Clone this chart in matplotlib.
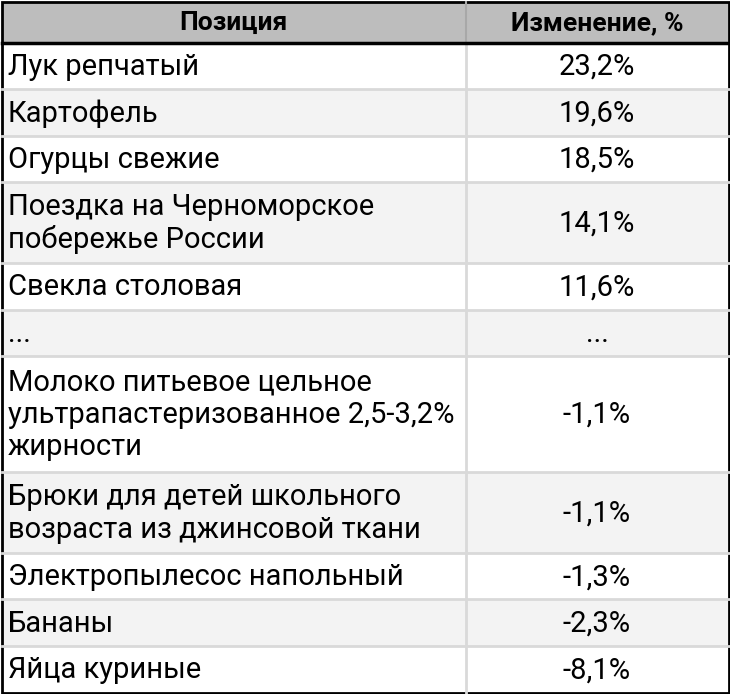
import matplotlib
matplotlib.use("Agg")
import matplotlib.pyplot as plt
from matplotlib.patches import Rectangle

headers = ["Позиция", "Изменение, %"]
positions = ["Лук репчатый", "Картофель", "Огурцы свежие",
             "Поездка на Черноморское\nпобережье России", "Свекла столовая", "...",
             "Молоко питьевое цельное\nультрапастеризованное 2,5-3,2%\nжирности",
             "Брюки для детей школьного\nвозраста из джинсовой ткани",
             "Электропылесос напольный", "Бананы", "Яйца куриные"]
changes = ["23,2%", "19,6%", "18,5%", "14,1%", "11,6%", "...",
           "-1,1%", "-1,1%", "-1,3%", "-2,3%", "-8,1%"]

W, H = 730, 694
fig = plt.figure(figsize=(W/100, H/100), dpi=100)
ax = fig.add_axes([0, 0, 1, 1])
ax.set_xlim(0, W); ax.set_ylim(H, 0); ax.axis("off")

x0, x1, xm = 1.5, 728.5, 466
top, hh = 1.5, 41
heights = [12 + 34.5*(p.count("\n")+1) for p in positions]
avail = (H - 1.5) - (top + hh)
scale = avail / sum(heights)
heights = [h*scale for h in heights]

ax.add_patch(Rectangle((x0, top), x1-x0, hh, fc="#bdbdbd", ec="none"))
ax.text(233, top+hh/2+1, headers[0], ha="center", va="center", fontsize=19, fontweight="bold", family="Roboto")
ax.text(597, top+hh/2+1, headers[1], ha="center", va="center", fontsize=19, fontweight="bold", family="Roboto")
y = top + hh
for i, (p, c, h) in enumerate(zip(positions, changes, heights)):
    fc = "#ffffff" if i % 2 == 0 else "#f3f3f3"
    ax.add_patch(Rectangle((x0, y), x1-x0, h, fc=fc, ec="none"))
    ax.text(8, y+h/2+1, p, ha="left", va="center", fontsize=21, family="Roboto", linespacing=1.2)
    ax.text(597, y+h/2+1, c, ha="center", va="center", fontsize=21, family="Roboto")
    y += h
    if i < len(positions)-1:
        ax.plot([x0, x1], [y, y], color="#d9d9d9", lw=2)
ax.plot([xm, xm], [top, top+hh], color="#a8a8a8", lw=1.5)
ax.plot([xm, xm], [top+hh, H-1.5], color="#d9d9d9", lw=2)
ax.plot([x0, x1], [top+hh, top+hh], color="black", lw=2.5)
ax.add_patch(Rectangle((x0, top), x1-x0, H-3, fc="none", ec="black", lw=2))
fig.savefig("out.png", dpi=100)
